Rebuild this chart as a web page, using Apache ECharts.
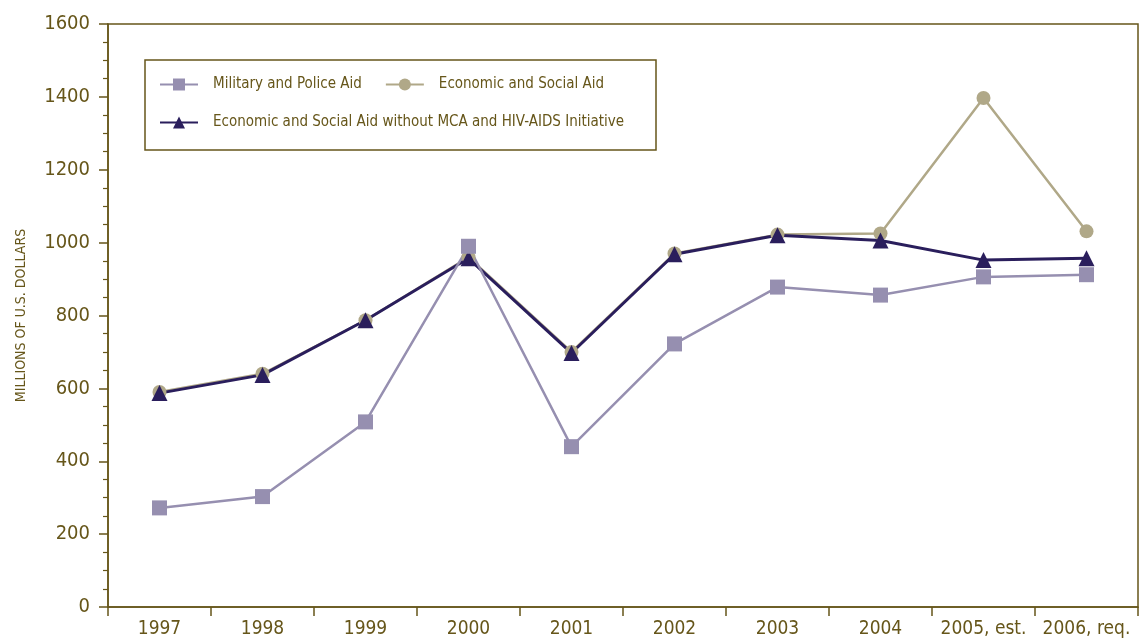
<!DOCTYPE html>
<html><head><meta charset="utf-8">
<script src="https://cdn.jsdelivr.net/npm/echarts@6/dist/echarts.min.js"></script>
<style>html,body{margin:0;padding:0;background:#fff}#c{width:1139px;height:639px}</style>
</head><body><div id="c"></div>
<script>
const categories = ['1997','1998','1999','2000','2001','2002','2003','2004','2005, est.','2006, req.'];
const militaryPolice = [272, 303, 508, 990, 440, 722, 878, 856, 906, 912];
const economicSocial = [590, 640, 787, 960, 700, 970, 1022, 1025, 1397, 1031];
const economicNoMCA = [587, 637, 787, 957, 697, 968, 1020, 1006, 952, 957];
const yTicks = [0, 200, 400, 600, 800, 1000, 1200, 1400, 1600];

const FONT = '"DejaVu Sans Condensed", "Liberation Sans Narrow", "Liberation Sans", sans-serif';
const OLIVE = '#66561a';
const chart = echarts.init(document.getElementById('c'), null, {renderer: 'canvas'});
chart.setOption({
  animation: false,
  backgroundColor: '#fff',
  textStyle: {fontFamily: FONT, color: OLIVE},
  grid: {left: 108, right: 1, top: 24, bottom: 30, show: true, borderColor: OLIVE, borderWidth: 1.5},
  graphic: [{type: 'rect', shape: {x: 145, y: 60, width: 511, height: 90}, style: {fill: 'none', stroke: OLIVE, lineWidth: 1.5}, z: 1}],
  legend: {
    left: 159, top: 77, width: 490, padding: 0, itemGap: 23, itemWidth: 38, itemHeight: 15,
    data: ['Military and Police Aid', 'Economic and Social Aid', 'Economic and Social Aid without MCA and HIV-AIDS Initiative'],
    textStyle: {fontFamily: FONT, fontSize: 15, color: OLIVE, padding: [0, 0, 0, 10]}
  },
  xAxis: {
    type: 'category', data: categories, boundaryGap: true,
    axisLine: {lineStyle: {color: OLIVE, width: 1.5}},
    axisTick: {show: true, inside: false, length: 9, lineStyle: {color: OLIVE, width: 1.5}},
    axisLabel: {interval: 0, fontFamily: FONT, fontSize: 19, color: OLIVE, margin: 13}
  },
  yAxis: {
    type: 'value', min: yTicks[0], max: yTicks[yTicks.length - 1], interval: 200,
    name: 'MILLIONS OF U.S. DOLLARS', nameLocation: 'middle', nameGap: 80,
    nameTextStyle: {fontFamily: FONT, fontSize: 14, color: OLIVE},
    axisLine: {show: true, lineStyle: {color: OLIVE, width: 1.5}},
    axisTick: {show: true, length: 9, lineStyle: {color: OLIVE, width: 1.5}},
    minorTick: {show: true, splitNumber: 4, length: 5, lineStyle: {color: OLIVE, width: 1.2}},
    splitLine: {show: false},
    axisLabel: {fontFamily: FONT, fontSize: 20, color: OLIVE, margin: 18, formatter: v => String(v)}
  },
  series: [
    {name: 'Economic and Social Aid', type: 'line', data: economicSocial, symbol: 'circle', symbolSize: 14,
     itemStyle: {color: '#b0a888'}, lineStyle: {color: '#b0a888', width: 2.5}},
    {name: 'Economic and Social Aid without MCA and HIV-AIDS Initiative', type: 'line', data: economicNoMCA, symbol: 'triangle', symbolSize: 16,
     itemStyle: {color: '#2a1e5c'}, lineStyle: {color: '#2a1e5c', width: 3}},
    {name: 'Military and Police Aid', type: 'line', data: militaryPolice, symbol: 'rect', symbolSize: 15,
     itemStyle: {color: '#968fb0'}, lineStyle: {color: '#968fb0', width: 2.5}}
  ]
});
</script></body></html>
